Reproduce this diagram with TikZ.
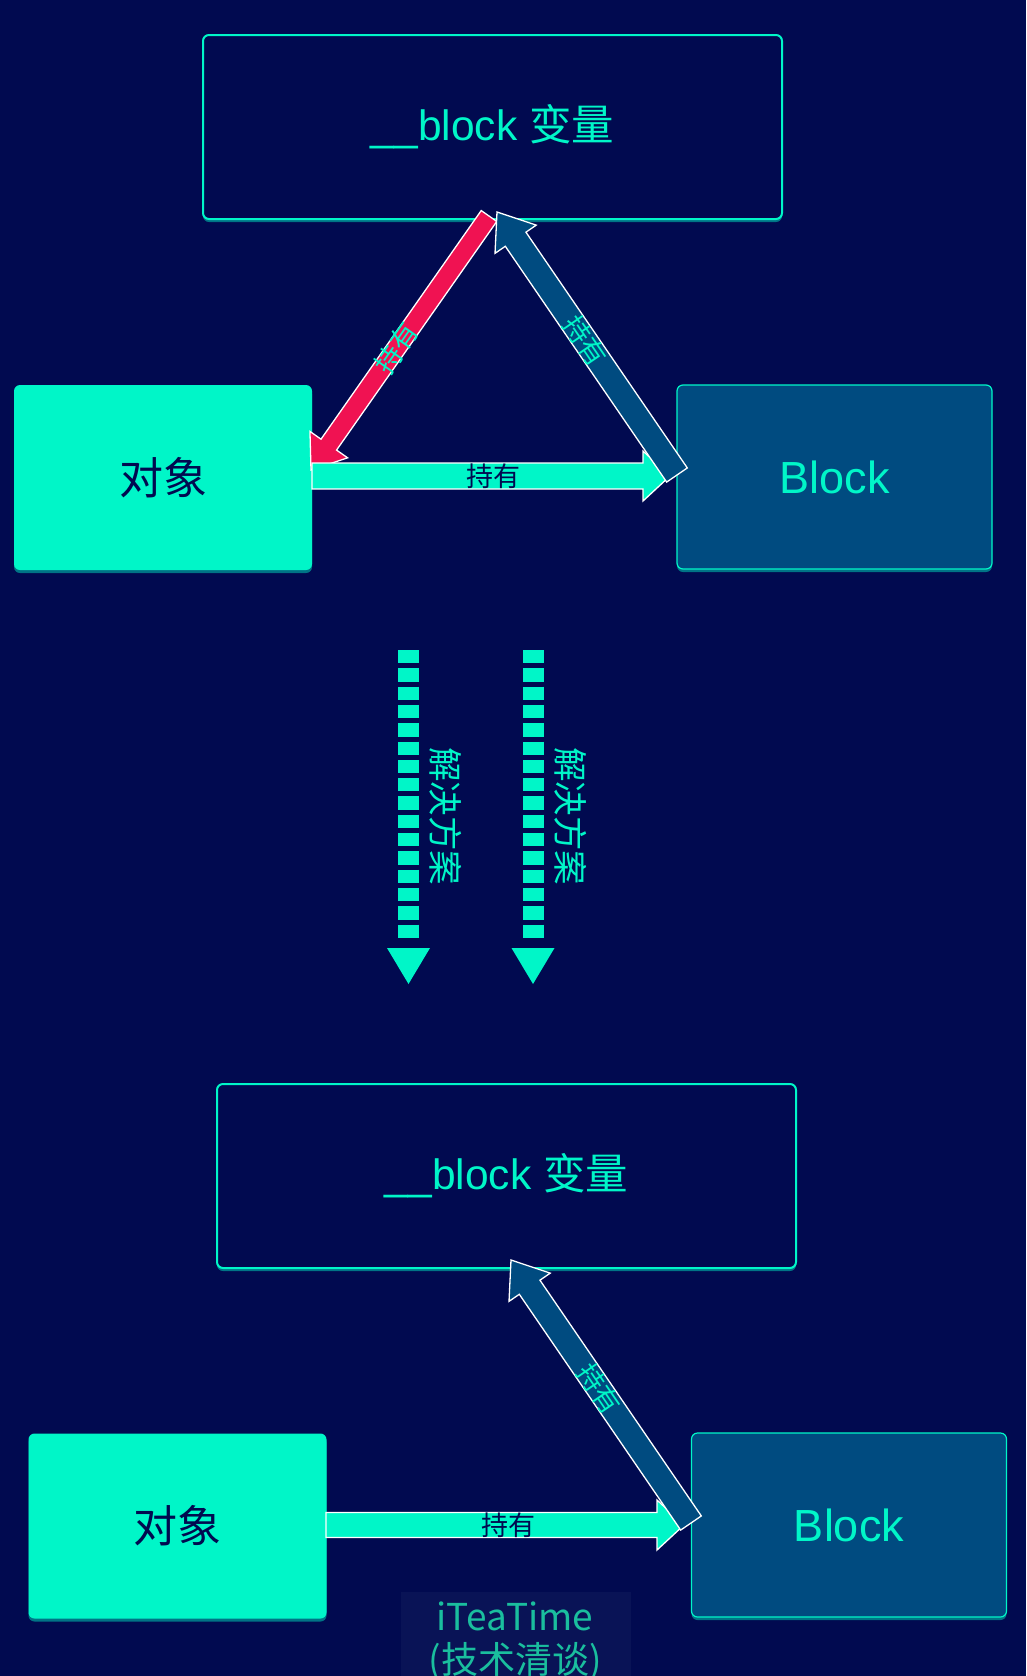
\documentclass[tikz,border=0pt]{standalone}
\usepackage{fontspec}
\setmainfont{Liberation Sans}
\newfontfamily\cjk{Noto Sans CJK SC}
\usetikzlibrary{calc,shadows}
\definecolor{bg}{RGB}{1,10,80}
\definecolor{aqua}{RGB}{0,246,200}
\definecolor{dblue}{RGB}{0,75,128}
\definecolor{hred}{RGB}{240,18,82}
\definecolor{wm}{RGB}{26,190,158}
\definecolor{wmbg}{RGB}{9,19,86}
% #1 fill, #2 tail, #3 tip, #4 half shaft, #5 half head, #6 head length
\newcommand\myblockarrow[6]{%
  \coordinate (#2-#3-h) at ($(#3)!#6!(#2)$);
  \draw[arrowline, fill=#1] ($(#2)!#4!90:(#3)$) -- ($(#2-#3-h)!#4!90:(#3)$)
    -- ($(#2-#3-h)!#5!90:(#3)$) -- (#3) -- ($(#2-#3-h)!#5!-90:(#3)$)
    -- ($(#2-#3-h)!#4!-90:(#3)$) -- ($(#2)!#4!-90:(#3)$) -- cycle;
}
\begin{document}
\begin{tikzpicture}[x=1pt,y=-1pt,
  glow/.style={drop shadow={shadow xshift=0pt, shadow yshift=-3pt, fill=aqua, opacity=.45}},
  varbox/.style={glow, draw=aqua, line width=2pt, rounded corners=6pt, fill=bg,
    minimum width=579pt, minimum height=184pt, text=aqua,
    font=\fontsize{42.5}{50}\selectfont, inner sep=0pt},
  objbox/.style={glow, fill=aqua, rounded corners=6pt, minimum width=298pt,
    minimum height=185pt, text=bg, font=\fontsize{44}{50}\selectfont, inner sep=0pt},
  blkbox/.style={glow, fill=dblue, draw=aqua, line width=1.2pt, rounded corners=6pt,
    minimum width=315pt, minimum height=184pt, text=aqua,
    font=\fontsize{45}{50}\selectfont, inner sep=0pt},
  arrowline/.style={draw=white, line width=1.3pt, line join=miter},
  lbl/.style={font=\cjk\fontsize{27}{30}\selectfont, inner sep=0pt},
  vlbl/.style={font=\cjk\fontsize{34.5}{38}\selectfont, inner sep=0pt, text=aqua, rotate=-90},
  dashline/.style={draw=aqua, line width=21pt, dash pattern=on 13.3pt off 5pt},
  wmtext/.style={font=\cjk\fontsize{37}{40}\selectfont, text=wm, inner sep=0pt}
]
\fill[bg] (0,0) rectangle (1026,1676);
\useasboundingbox (0,0) rectangle (1026,1676);

% ---------- top section ----------
\node[varbox] (topA) at (492.5,127) {\_\_block {\cjk 变量}};
\node[objbox] (objA) at (163,477.5) {\cjk 对象};
\node[blkbox] (blkA) at (834.5,477) {Block};

\coordinate (rt) at (489,216);
\coordinate (rh) at (311,470);
\myblockarrow{hred}{rt}{rh}{9.5pt}{23pt}{31pt}
\coordinate (ht) at (312,476);
\coordinate (hh) at (670,476);
\myblockarrow{aqua}{ht}{hh}{13pt}{25pt}{27pt}
\coordinate (bt) at (677,475);
\coordinate (bh) at (497,212);
\myblockarrow{dblue}{bt}{bh}{12.5pt}{25pt}{33pt}

\node[lbl, text=aqua, rotate=55] (lr) at ($(rt)!0.52!(rh)$) {持有};
\node[lbl, text=bg] (lh) at (493,476) {持有};
\node[lbl, text=aqua, rotate=-55.6] (lb) at ($(bt)!0.51!(bh)$) {持有};

% ---------- dashed arrows ----------
\coordinate (d1s) at (408.5,650);
\coordinate (d1m) at (408.5,938);
\coordinate (d1e) at (408.5,984);
\coordinate (d2s) at (533,650);
\coordinate (d2m) at (533,938);
\coordinate (d2e) at (533,984);
\draw[dashline] (d1s) -- (d1m);
\fill[aqua] ($(d1e)+(-21.5,-36)$) -- ($(d1e)+(21.5,-36)$) -- (d1e) -- cycle;
\draw[dashline] (d2s) -- (d2m);
\fill[aqua] ($(d2e)+(-21.5,-36)$) -- ($(d2e)+(21.5,-36)$) -- (d2e) -- cycle;
\node[vlbl] (v1) at (446,816) {解决方案};
\node[vlbl] (v2) at (571,816) {解决方案};

% ---------- bottom section ----------
\node[varbox] (topB) at (506.5,1176) {\_\_block {\cjk 变量}};
\node[objbox] (objB) at (177.5,1526) {\cjk 对象};
\node[blkbox] (blkB) at (849,1525) {Block};

\coordinate (ht2) at (326,1525);
\coordinate (hh2) at (684,1525);
\myblockarrow{aqua}{ht2}{hh2}{12.5pt}{25pt}{27pt}
\coordinate (bt2) at (691,1523);
\coordinate (bh2) at (511,1260);
\myblockarrow{dblue}{bt2}{bh2}{12.5pt}{25pt}{33pt}

\node[lbl, text=bg] (lh2) at (508,1525) {持有};
\node[lbl, text=aqua, rotate=-55.6] (lb2) at ($(bt2)!0.51!(bh2)$) {持有};

% ---------- watermark ----------
\fill[wmbg] (401,1592) rectangle (631,1676);
\node[wmtext] (wm1) at (515,1616) {iTeaTime};
\node[wmtext] (wm2) at (515,1662) {(技术清谈)};
\end{tikzpicture}
\end{document}
